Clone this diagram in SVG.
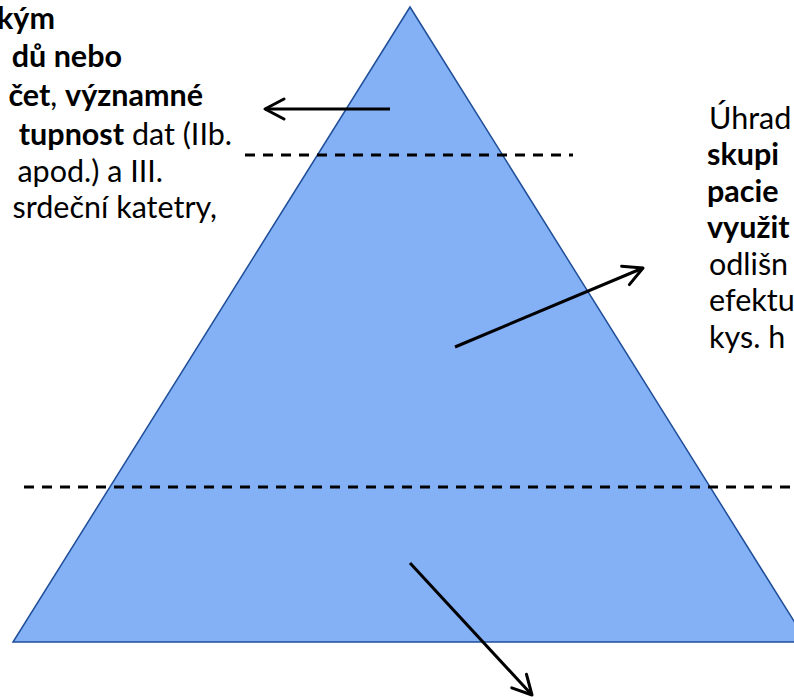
<svg xmlns="http://www.w3.org/2000/svg" width="794" height="700" viewBox="0 0 794 700">
<defs>
<style>
.txt{font-family:Lato,"Open Sans","Liberation Sans",sans-serif;font-size:30.5px;fill:#000}
.b{font-weight:bold}
.dash{stroke:#000;stroke-width:3;stroke-dasharray:10 8;fill:none}
.arr{stroke:#000;stroke-width:3;fill:none;marker-end:url(#head)}
</style>
<marker id="head" markerUnits="userSpaceOnUse" markerWidth="40" markerHeight="40" viewBox="-25 -20 40 40" refX="0" refY="0" orient="auto">
<path d="M-19,-10 L0,0 L-19,10" fill="none" stroke="#000" stroke-width="3" stroke-linejoin="round" stroke-linecap="round"/>
</marker>
</defs>
<rect width="794" height="700" fill="#fff"/>
<g id="pyramid">
<polygon points="410,7 807,642 13,642" fill="#84B0F5" stroke="#1F4E99" stroke-width="1.5"/>
</g>
<g id="dividers">
<line class="dash" x1="245" y1="155" x2="573" y2="155"/>
<line class="dash" x1="24" y1="487" x2="800" y2="487"/>
</g>
<g id="connectors">
<line class="arr" x1="390" y1="109" x2="265" y2="109"/>
<line class="arr" x1="455" y1="347" x2="643" y2="268"/>
<line class="arr" x1="410" y1="563" x2="532" y2="695"/>
</g>
<g id="left-text" class="txt" text-anchor="end">
<text x="55" y="29" class="b">kým</text>
<text x="122" y="67" class="b">dů nebo</text>
<text x="203" y="106"><tspan class="b">čet</tspan>, <tspan class="b">významné</tspan></text>
<text x="232" y="145"><tspan class="b">tupnost</tspan> dat (IIb.</text>
<text x="163" y="182">apod.) a III.</text>
<text x="217" y="218">srdeční katetry,</text>
</g>
<g id="right-text" class="txt">
<text x="709" y="129">Úhrad</text>
<text x="707" y="165" class="b">skupi</text>
<text x="707" y="202" class="b">pacie</text>
<text x="707" y="238" class="b">využit</text>
<text x="709" y="275">odlišn</text>
<text x="709" y="311">efektu</text>
<text x="709" y="348">kys. h</text>
</g>
</svg>
